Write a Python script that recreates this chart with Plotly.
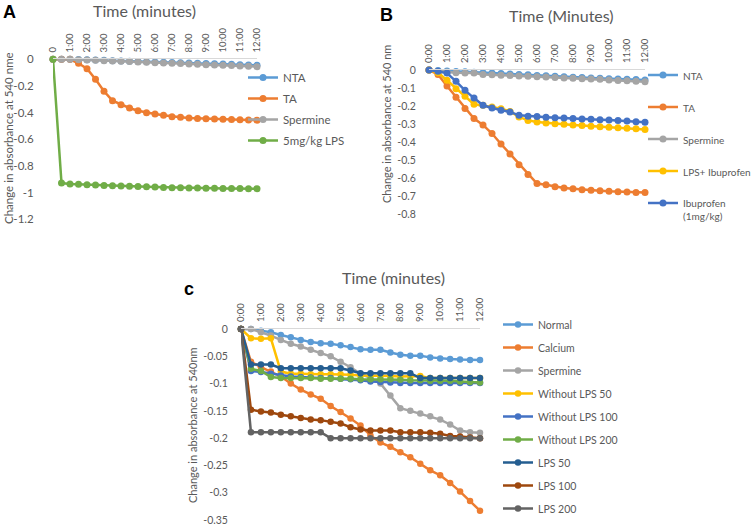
import plotly.graph_objects as go

W, H = 753, 525

# ---------------- data ----------------
minutes = [i * 0.5 for i in range(25)]
tick_minutes = list(range(13))
ticks_A = ["0"] + [f"{m}:00" for m in range(1, 13)]
ticks_BC = [f"{m}:00" for m in range(0, 13)]

# Panel A
A_names = ["NTA", "TA", "Spermine", "5mg/kg LPS"]
A_NTA = [0, 0, 0, -0.002, -0.004, -0.006, -0.008, -0.01, -0.012, -0.014, -0.016, -0.018, -0.02,
         -0.022, -0.024, -0.026, -0.028, -0.03, -0.032, -0.034, -0.036, -0.038, -0.04, -0.042, -0.045]
A_TA = [0, 0, 0, -0.03, -0.07, -0.15, -0.24, -0.31, -0.34, -0.365, -0.385, -0.4, -0.41,
        -0.42, -0.43, -0.435, -0.44, -0.443, -0.446, -0.448, -0.45, -0.452, -0.453, -0.455, -0.456]
A_Spermine = [0, 0, 0, -0.003, -0.005, -0.008, -0.01, -0.012, -0.015, -0.017, -0.02, -0.022, -0.025,
              -0.027, -0.03, -0.032, -0.035, -0.037, -0.04, -0.042, -0.045, -0.047, -0.05, -0.052, -0.055]
A_LPS = [0, -0.928, -0.934, -0.937, -0.94, -0.943, -0.945, -0.948, -0.95, -0.952, -0.954, -0.956, -0.958,
         -0.96, -0.962, -0.963, -0.964, -0.965, -0.966, -0.967, -0.968, -0.968, -0.969, -0.97, -0.97]
A_yticks = [0, -0.2, -0.4, -0.6, -0.8, -1, -1.2]
A_yticktext = ["0", "-0.2", "-0.4", "-0.6", "-0.8", "-1", "-1.2"]

# Panel B
B_names = ["NTA", "TA", "Spermine", "LPS+ Ibuprofen", "Ibuprofen<br>(1mg/kg)"]
B_NTA = [0, -0.003, -0.006, -0.008, -0.01, -0.012, -0.015, -0.017, -0.02, -0.022, -0.025, -0.027, -0.03,
         -0.032, -0.035, -0.037, -0.04, -0.042, -0.044, -0.046, -0.048, -0.05, -0.052, -0.053, -0.055]
B_TA = [0, -0.025, -0.089, -0.151, -0.214, -0.27, -0.305, -0.353, -0.411, -0.466, -0.527, -0.58, -0.631,
        -0.638, -0.648, -0.655, -0.66, -0.665, -0.668, -0.671, -0.674, -0.676, -0.678, -0.68, -0.681]
B_Spermine = [0, -0.007, -0.011, -0.015, -0.016, -0.017, -0.025, -0.026, -0.029, -0.03, -0.033, -0.035, -0.037,
              -0.039, -0.042, -0.044, -0.046, -0.048, -0.05, -0.052, -0.055, -0.058, -0.06, -0.062, -0.065]
B_LPSIbu = [0, -0.015, -0.057, -0.104, -0.146, -0.19, -0.196, -0.206, -0.215, -0.23, -0.261, -0.28, -0.289,
            -0.294, -0.298, -0.302, -0.306, -0.309, -0.312, -0.315, -0.318, -0.321, -0.324, -0.327, -0.33]
B_Ibu = [0, -0.007, -0.017, -0.063, -0.113, -0.156, -0.196, -0.211, -0.224, -0.233, -0.252, -0.257, -0.259,
         -0.262, -0.265, -0.267, -0.27, -0.272, -0.274, -0.276, -0.278, -0.28, -0.283, -0.287, -0.29]
B_yticks = [0, -0.1, -0.2, -0.3, -0.4, -0.5, -0.6, -0.7, -0.8]
B_yticktext = ["0", "-0.1", "-0.2", "-0.3", "-0.4", "-0.5", "-0.6", "-0.7", "-0.8"]

# Panel C
C_names = ["Normal", "Calcium", "Spermine", "Without LPS 50", "Without LPS 100", "Without LPS 200",
           "LPS 50", "LPS 100", "LPS 200"]
C_Normal = [0, 0, -0.003, -0.006, -0.011, -0.015, -0.02, -0.024, -0.026, -0.027, -0.03, -0.033, -0.037,
            -0.038, -0.038, -0.043, -0.047, -0.049, -0.049, -0.052, -0.054, -0.055, -0.056, -0.057, -0.057]
C_Calcium = [0, -0.06, -0.07, -0.078, -0.087, -0.1, -0.111, -0.12, -0.128, -0.141, -0.152, -0.164, -0.177,
             -0.195, -0.208, -0.216, -0.226, -0.235, -0.247, -0.259, -0.268, -0.282, -0.298, -0.315, -0.333]
C_Spermine = [0, 0, -0.006, -0.012, -0.02, -0.027, -0.032, -0.038, -0.044, -0.05, -0.06, -0.07, -0.082,
              -0.09, -0.1, -0.122, -0.145, -0.15, -0.155, -0.16, -0.166, -0.175, -0.186, -0.189, -0.19]
C_WoLPS50 = [0, -0.017, -0.018, -0.017, -0.078, -0.082, -0.082, -0.083, -0.083, -0.083, -0.083, -0.084, -0.085,
             -0.085, -0.086, -0.086, -0.087, -0.087, -0.086, -0.09, -0.09, -0.09, -0.09, -0.09, -0.09]
C_WoLPS100 = [0, -0.077, -0.079, -0.082, -0.085, -0.087, -0.088, -0.089, -0.09, -0.09, -0.091, -0.092, -0.094,
              -0.096, -0.097, -0.098, -0.099, -0.099, -0.099, -0.099, -0.099, -0.099, -0.099, -0.099, -0.099]
C_WoLPS200 = [0, -0.073, -0.077, -0.088, -0.09, -0.09, -0.09, -0.09, -0.091, -0.091, -0.091, -0.091, -0.092,
              -0.092, -0.092, -0.092, -0.093, -0.094, -0.094, -0.095, -0.095, -0.095, -0.096, -0.097, -0.098]
C_LPS50 = [0, -0.065, -0.065, -0.065, -0.072, -0.072, -0.072, -0.072, -0.072, -0.072, -0.072, -0.076, -0.081,
           -0.081, -0.081, -0.081, -0.081, -0.081, -0.09, -0.09, -0.09, -0.09, -0.09, -0.09, -0.09]
C_LPS100 = [0, -0.148, -0.151, -0.153, -0.157, -0.16, -0.163, -0.166, -0.167, -0.17, -0.173, -0.18, -0.184,
            -0.186, -0.186, -0.186, -0.189, -0.189, -0.189, -0.19, -0.192, -0.196, -0.197, -0.199, -0.2]
C_LPS200 = [0, -0.189, -0.189, -0.189, -0.189, -0.189, -0.189, -0.189, -0.189, -0.2, -0.2, -0.2, -0.2,
            -0.2, -0.2, -0.2, -0.2, -0.2, -0.2, -0.2, -0.2, -0.2, -0.2, -0.2, -0.2]
C_yticks = [0, -0.05, -0.1, -0.15, -0.2, -0.25, -0.3, -0.35]
C_yticktext = ["0", "-0.05", "-0.1", "-0.15", "-0.2", "-0.25", "-0.3", "-0.35"]

# ---------------- styling ----------------
BLUE, ORANGE, GRAY, YELLOW = "#5B9BD5", "#ED7D31", "#A5A5A5", "#FFC000"
MBLUE, GREEN, DBLUE, BROWN, DGRAY = "#4472C4", "#70AD47", "#255E91", "#9E480E", "#636363"
TXT = "#595959"
FONT = "Lato"

def px_x(p):
    return p / W

def px_y(p):
    return 1 - p / H

fig = go.Figure()

def add_series(name, ys, color, xa, ya, legend, grp, msize=7):
    fig.add_trace(go.Scatter(
        x=minutes, y=ys, name=name, mode="lines+markers",
        line=dict(color=color, width=2.5),
        marker=dict(color=color, size=msize),
        xaxis=xa, yaxis=ya, legend=legend, legendgroup=grp,
        cliponaxis=False, hoverinfo="skip"))

for n, ys, c in zip(A_names, [A_NTA, A_TA, A_Spermine, A_LPS], [BLUE, ORANGE, GRAY, GREEN]):
    add_series(n, ys, c, "x", "y", "legend", "A" + n)
for n, ys, c in zip(B_names, [B_NTA, B_TA, B_Spermine, B_LPSIbu, B_Ibu], [BLUE, ORANGE, GRAY, YELLOW, MBLUE]):
    add_series(n, ys, c, "x2", "y2", "legend2", "B" + n)
for n, ys, c in zip(C_names,
                    [C_Normal, C_Calcium, C_Spermine, C_WoLPS50, C_WoLPS100, C_WoLPS200, C_LPS50, C_LPS100, C_LPS200],
                    [BLUE, ORANGE, GRAY, YELLOW, MBLUE, GREEN, DBLUE, BROWN, DGRAY]):
    add_series(n, ys, c, "x3", "y3", "legend3", "C" + n, msize=6.5)

HIDE = "rgba(0,0,0,0)"

def xaxis(dom, anchor, ticktext, size):
    return dict(domain=dom, anchor=anchor, range=[0, 12], side="top",
                tickvals=tick_minutes, ticktext=ticktext, tickangle=-90,
                tickfont=dict(family=FONT, size=size, color=TXT),
                showline=True, linecolor="#D9D9D9", linewidth=1,
                showgrid=False, zeroline=False, ticks="outside", ticklen=4, tickcolor=HIDE,
                automargin=False, ticklabeloverflow="allow")

def yaxis(dom, anchor, rng, tv, tt, size, gap):
    return dict(domain=dom, anchor=anchor, range=rng, tickvals=tv, ticktext=tt,
                tickfont=dict(family=FONT, size=size, color=TXT),
                showline=False, showgrid=False, zeroline=False,
                ticks="outside", ticklen=gap, tickcolor=HIDE, automargin=False,
                ticklabeloverflow="allow")

fig.update_layout(
    width=W, height=H, margin=dict(l=0, r=0, t=0, b=0, pad=0, autoexpand=False),
    paper_bgcolor="white", plot_bgcolor="white", showlegend=True,
    xaxis=xaxis([px_x(53), px_x(257)], "y", ticks_A, 9.5),
    yaxis=yaxis([px_y(219.4), px_y(59.3)], "x", [-1.2, 0], A_yticks, A_yticktext, 11.5, 16),
    xaxis2=xaxis([px_x(429), px_x(645)], "y2", ticks_BC, 9.5),
    yaxis2=yaxis([px_y(214), px_y(70)], "x2", [-0.8, 0], B_yticks, B_yticktext, 10.5, 10),
    xaxis3=xaxis([px_x(241), px_x(480)], "y3", ticks_BC, 9.5),
    yaxis3=yaxis([px_y(520), px_y(329)], "x3", [-0.35, 0], C_yticks, C_yticktext, 10.5, 10),
    legend=dict(x=px_x(243), y=px_y(63), xanchor="left", yanchor="top",
                font=dict(family=FONT, size=11.5, color=TXT), bgcolor=HIDE,
                traceorder="grouped", tracegroupgap=2, itemwidth=30),
    legend2=dict(x=px_x(643), y=px_y(62), xanchor="left", yanchor="top",
                 font=dict(family=FONT, size=10, color=TXT), bgcolor=HIDE,
                 traceorder="grouped", tracegroupgap=13, itemwidth=30, valign="top"),
    legend3=dict(x=px_x(498), y=px_y(310), xanchor="left", yanchor="top",
                 font=dict(family=FONT, size=10.5, color=TXT), bgcolor=HIDE,
                 traceorder="grouped", tracegroupgap=4, itemwidth=30),
)

annots = [
    dict(text="Time (minutes)", x=px_x(144), y=px_y(11), size=16, angle=0, color=TXT, bold=False),
    dict(text="Time (Minutes)", x=px_x(561), y=px_y(16), size=16, angle=0, color=TXT, bold=False),
    dict(text="Time (minutes)", x=px_x(393), y=px_y(277), size=16, angle=0, color=TXT, bold=False),
    dict(text="Change in absorbance at 540 nme", x=px_x(8), y=px_y(138), size=11.5, angle=-90, color=TXT, bold=False),
    dict(text="Change in absorbance at 540 nm", x=px_x(387), y=px_y(124), size=11, angle=-90, color=TXT, bold=False),
    dict(text="Change in absorbance at 540nm", x=px_x(192), y=px_y(425), size=11, angle=-90, color=TXT, bold=False),
    dict(text="<b>A</b>", x=px_x(9), y=px_y(12), size=18, angle=0, color="black", bold=True),
    dict(text="<b>B</b>", x=px_x(386), y=px_y(15), size=18, angle=0, color="black", bold=True),
    dict(text="<b>c</b>", x=px_x(189), y=px_y(289), size=18, angle=0, color="black", bold=True),
]
for a in annots:
    fig.add_annotation(text=a["text"], x=a["x"], y=a["y"], xref="paper", yref="paper",
                       xanchor="center", yanchor="middle", showarrow=False, textangle=a["angle"],
                       font=dict(family="Liberation Sans" if a["bold"] else FONT, size=a["size"], color=a["color"]))

fig.write_html("out.html", config={"displayModeBar": False},
               post_script="document.body.style.margin='0';document.body.style.padding='0';")
